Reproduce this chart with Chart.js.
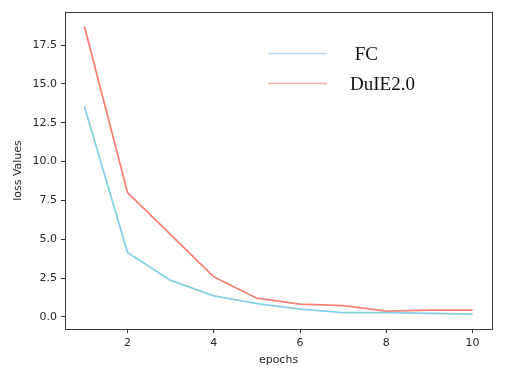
<!DOCTYPE html>
<html>
<head>
<meta charset="utf-8">
<script src="https://cdn.jsdelivr.net/npm/chart.js@4/dist/chart.umd.min.js"></script>
<style>
  html, body { margin: 0; padding: 0; background: #fff; }
  #wrap { width: 514px; height: 372px; }
</style>
</head>
<body>
<div id="wrap"><canvas id="loss"></canvas></div>
<script>
// data
epochs = [1, 2, 3, 4, 5, 6, 7, 8, 9, 10];
fcLoss = [13.55, 4.15, 2.35, 1.35, 0.85, 0.5, 0.28, 0.27, 0.22, 0.18];
duieLoss = [18.7, 8.0, 5.3, 2.58, 1.2, 0.82, 0.72, 0.37, 0.43, 0.43];
xTicks = [2, 4, 6, 8, 10];
yTicks = [0, 2.5, 5, 7.5, 10, 12.5, 15, 17.5];

function toPoints(ys) {
  return epochs.map((e, i) => ({x: e, y: ys[i]}));
}

// frame around the plot area
framePlugin = {
  id: 'frame',
  afterDatasetsDraw(chart) {
    const {ctx, chartArea: a} = chart;
    ctx.save();
    ctx.strokeStyle = '#3a3a3a';
    ctx.lineWidth = 1;
    ctx.strokeRect(Math.round(a.left) + 0.5, Math.round(a.top) + 0.5,
      Math.round(a.right - a.left), Math.round(a.bottom - a.top));
    ctx.restore();
  }
};

// legend inside the plot, matplotlib style
legendPlugin = {
  id: 'innerLegend',
  afterDraw(chart) {
    const ctx = chart.ctx;
    ctx.save();
    ctx.font = '19px "Liberation Serif", "Times New Roman", serif';
    ctx.textBaseline = 'middle';
    ctx.fillStyle = '#111';
    chart.data.datasets.forEach((ds, i) => {
      const y = 53.5 + i * 30;
      ctx.strokeStyle = ds.legendColor;
      ctx.lineWidth = 1.6;
      ctx.beginPath();
      ctx.moveTo(268, y);
      ctx.lineTo(327, y);
      ctx.stroke();
      ctx.fillText(ds.label, 350, y + 2);
    });
    ctx.restore();
  }
};

tickFont = {family: '"DejaVu Sans", sans-serif', size: 11};

config = {
  type: 'line',
  data: {
    datasets: [
      {
        label: ' FC',
        data: toPoints(fcLoss),
        borderColor: '#87CEEB',
        legendColor: '#b9d6f0',
        borderWidth: 1.8,
        pointRadius: 0,
        tension: 0
      },
      {
        label: 'DuIE2.0',
        data: toPoints(duieLoss),
        borderColor: '#FA8072',
        legendColor: '#f7aaa2',
        borderWidth: 1.8,
        pointRadius: 0,
        tension: 0
      }
    ]
  },
  options: {
    responsive: true,
    maintainAspectRatio: false,
    animation: false,
    layout: {padding: {left: 0, top: 12, right: 22, bottom: 0}},
    plugins: {
      legend: {display: false},
      tooltip: {enabled: false}
    },
    scales: {
      x: {
        type: 'linear',
        min: 0.55,
        max: 10.45,
        afterBuildTicks(scale) { scale.ticks = xTicks.map(v => ({value: v})); },
        afterFit(scale) { scale.height = 43; },
        grid: {drawOnChartArea: false, drawTicks: true, tickLength: 4, color: '#333'},
        border: {display: false},
        ticks: {color: '#262626', font: tickFont, padding: 4, maxRotation: 0},
        title: {display: true, text: 'epochs', color: '#262626', font: tickFont,
          padding: {top: 0, bottom: 5.5}}
      },
      y: {
        min: -0.78,
        max: 19.63,
        afterBuildTicks(scale) { scale.ticks = yTicks.map(v => ({value: v})); },
        afterFit(scale) { scale.width = 65; },
        grid: {drawOnChartArea: false, drawTicks: true, tickLength: 4, color: '#333'},
        border: {display: false},
        ticks: {color: '#262626', font: tickFont, padding: 4,
          callback: v => v.toFixed(1)},
        title: {display: true, text: 'loss Values', color: '#262626', font: tickFont,
          padding: {top: 11.5, bottom: 0}}
      }
    }
  },
  plugins: [framePlugin, legendPlugin]
};

ctx = document.getElementById('loss').getContext('2d');
lossChart = new Chart(ctx, config);
</script>
</body>
</html>
